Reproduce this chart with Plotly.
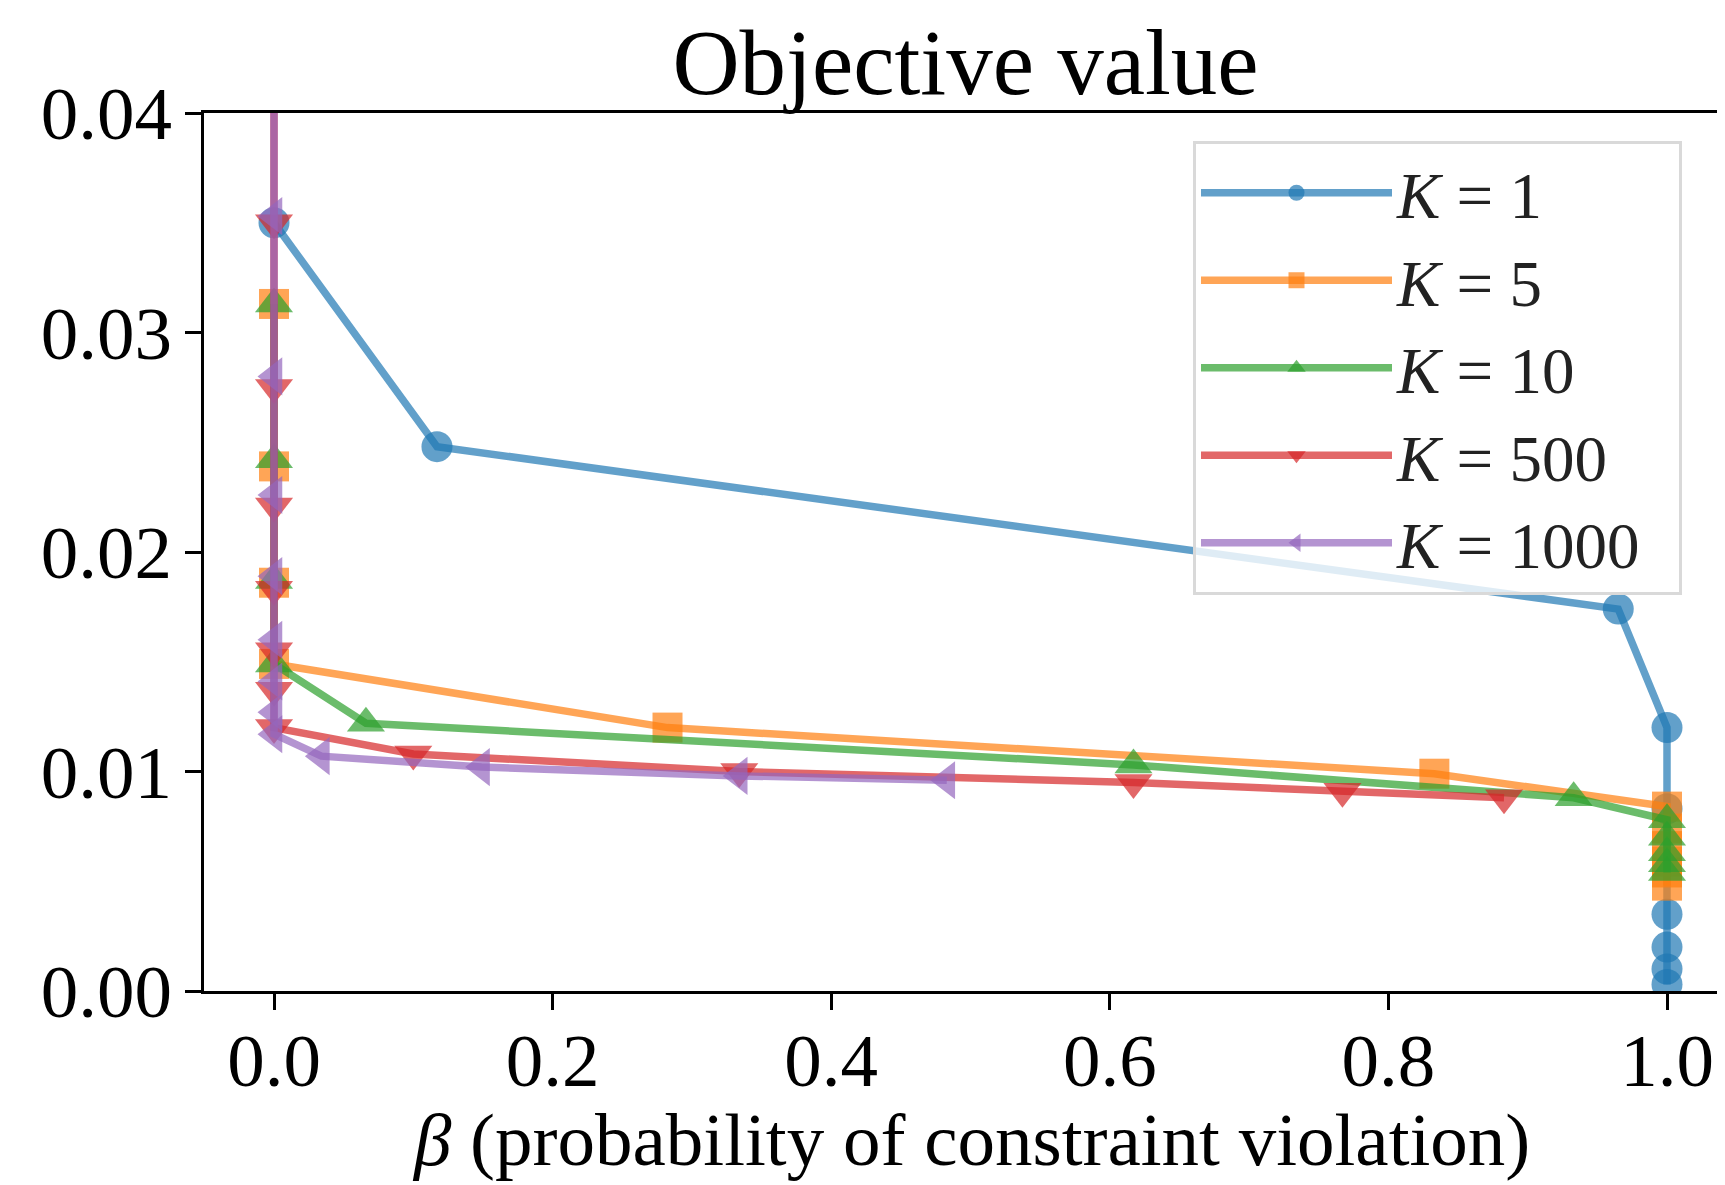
import plotly.graph_objects as go

# ---- data ----
labels = ["<i>K</i> = 1", "<i>K</i> = 5", "<i>K</i> = 10", "<i>K</i> = 500", "<i>K</i> = 1000"]

beta_k1 = [0.0, 0.117, 0.965, 1.0, 1.0, 1.0, 1.0, 1.0, 1.0]
obj_k1 = [0.0350, 0.0248, 0.0174, 0.0120, 0.0083, 0.0035, 0.0020, 0.0010, 0.0003]

beta_k5 = [0.0, 0.0, 0.0, 0.0, 0.2825, 0.833, 1.0, 1.0, 1.0, 1.0, 1.0, 1.0]
obj_k5 = [0.0313, 0.0239, 0.0186, 0.0149, 0.0120, 0.0099, 0.0084, 0.0074, 0.0066, 0.0059, 0.0054, 0.0048]

beta_k10 = [0.0, 0.0, 0.0, 0.0, 0.066, 0.617, 0.933, 1.0, 1.0, 1.0, 1.0, 1.0]
obj_k10 = [0.0313, 0.0242, 0.0187, 0.0149, 0.0122, 0.0103, 0.0088, 0.0078, 0.0070, 0.0063, 0.0058, 0.0054]

beta_k500 = [0.0, 0.0, 0.0, 0.0, 0.0, 0.0, 0.0, 0.0, 0.100, 0.334, 0.617, 0.767, 0.883]
obj_k500 = [0.0500, 0.0350, 0.0275, 0.0221, 0.0183, 0.0155, 0.0137, 0.0120, 0.0108, 0.0100, 0.0095, 0.0091, 0.0088]

beta_k1000 = [0.0, 0.0, 0.0, 0.0, 0.0, 0.0, 0.0, 0.0, 0.0, 0.034, 0.149, 0.334, 0.483]
obj_k1000 = [0.0500, 0.0353, 0.0280, 0.0226, 0.0189, 0.0160, 0.0141, 0.0127, 0.0117, 0.0107, 0.0102, 0.0098, 0.0096]

x_ticks = [0.0, 0.2, 0.4, 0.6, 0.8, 1.0]
y_ticks = [0.00, 0.01, 0.02, 0.03, 0.04]

x_title = "<i>β</i> (probability of constraint violation)"

# ---- styling ----
rgb = [(31, 119, 180), (255, 127, 14), (44, 160, 44), (214, 39, 40), (148, 103, 189)]
symbols = ["circle", "square", "triangle-up", "triangle-down", "triangle-left"]
msizes = [31, 30, 33, 33, 33]
series = [(beta_k1, obj_k1), (beta_k5, obj_k5), (beta_k10, obj_k10),
          (beta_k500, obj_k500), (beta_k1000, obj_k1000)]

FONT = "Liberation Serif"

fig = go.Figure()
for (xs, ys), lab, c, sym, ms in zip(series, labels, rgb, symbols, msizes):
    col = "rgba(%d,%d,%d,0.7)" % c
    fig.add_trace(go.Scatter(
        x=xs, y=ys, name=lab + "&nbsp;&nbsp;", mode="lines+markers",
        line=dict(color=col, width=7.5),
        marker=dict(symbol=sym, size=ms, color=col, line=dict(width=0)),
    ))

# page body adds a small offset; positions below are in figure coordinates
OFFX, OFFY = 6, 8
W, H = 1725, 1185
left, right_px, top, bottom = 202 - OFFX, 1725 - OFFX, 113 - OFFY, 991 - OFFY
x0_px, x1_px = 272 - OFFX, 1665 - OFFX
ppu = x1_px - x0_px
xmin = (left - x0_px) / ppu
xmax = (right_px - x0_px) / ppu
xtitle_center = ((x0_px + x1_px) / 2 - left) / (right_px - left)

fig.update_layout(
    width=W, height=H,
    margin=dict(l=left, r=W - right_px, t=top, b=H - bottom, pad=0, autoexpand=False),
    paper_bgcolor="white", plot_bgcolor="white",
    font=dict(family=FONT, color="black", size=75),
    title=dict(text="Objective value", x=(left + right_px) / 2 / W, xanchor="center",
               y=1 - (61 - OFFY) / H, yanchor="middle", yref="container",
               font=dict(size=93, family=FONT)),
    showlegend=True,
    legend=dict(x=(1680 - OFFX - left) / (right_px - left), xanchor="right",
                y=(bottom - (141 - OFFY)) / (bottom - top), yanchor="top",
                bgcolor="rgba(255,255,255,0.8)", bordercolor="#d9d9d9", borderwidth=3,
                font=dict(size=65, family=FONT, color="#222222"),
                itemwidth=191, tracegroupgap=0),
    annotations=[dict(text=x_title, xref="paper", yref="paper",
                      x=xtitle_center,
                      y=-(H - OFFY - 2 - bottom) / (bottom - top),
                      xanchor="center", yanchor="bottom", showarrow=False,
                      font=dict(size=75, family=FONT, color="black"))],
)
fig.update_xaxes(
    range=[xmin, xmax], tickvals=x_ticks, ticktext=["%.1f" % v for v in x_ticks],
    showgrid=False, zeroline=False, showline=True, linecolor="black", linewidth=3,
    mirror=True, ticks="outside", ticklen=16, tickwidth=3, tickcolor="black",
    tickfont=dict(size=75, family=FONT), ticklabelstandoff=-14, automargin=False,
)
fig.update_yaxes(
    range=[0, 0.04], tickvals=y_ticks, ticktext=["%.2f" % v for v in y_ticks],
    showgrid=False, zeroline=False, showline=True, linecolor="black", linewidth=3,
    mirror=False, ticks="outside", ticklen=16, tickwidth=3, tickcolor="black",
    tickfont=dict(size=75, family=FONT), ticklabelstandoff=-2, automargin=False,
)

fig.write_html("out.html")
